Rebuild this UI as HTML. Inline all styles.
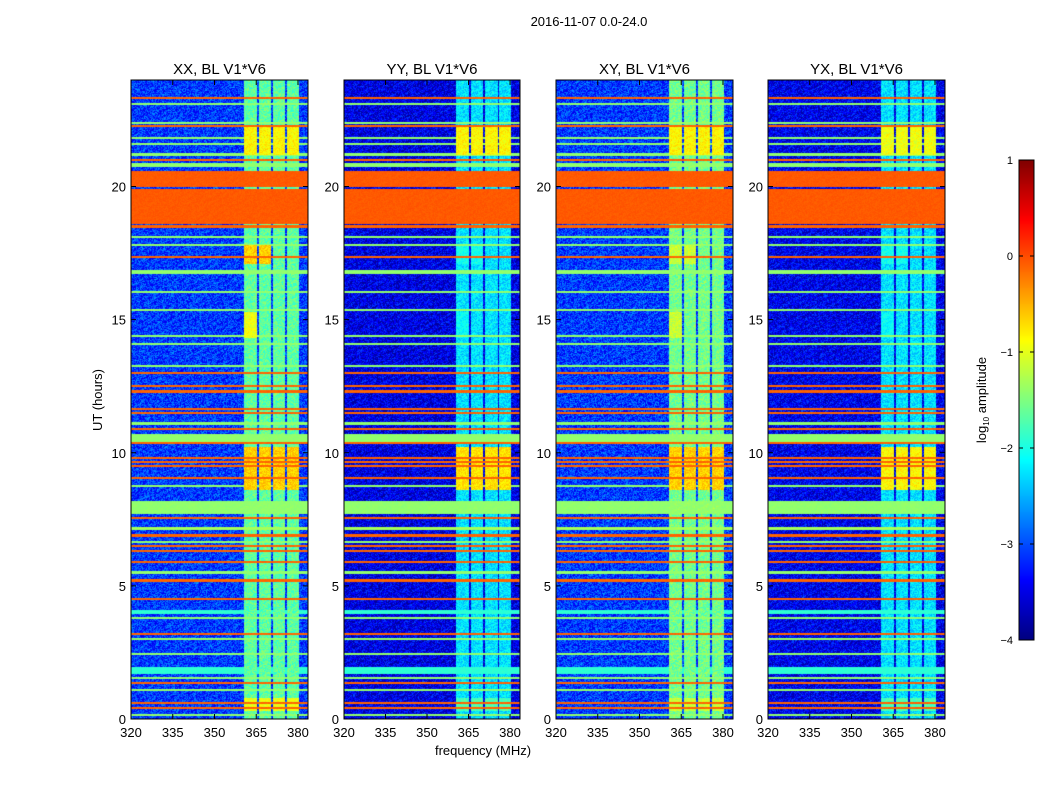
<!DOCTYPE html>
<html><head><meta charset="utf-8">
<style>
body{margin:0;background:#fff;width:1050px;height:800px;position:relative;overflow:hidden;font-family:"Liberation Sans",sans-serif}
canvas{position:absolute}
svg{position:absolute;left:0;top:0}
</style></head>
<body>
<canvas id="p0" width="177" height="639" style="left:131px;top:80px"></canvas>
<canvas id="p1" width="176" height="639" style="left:344px;top:80px"></canvas>
<canvas id="p2" width="177" height="639" style="left:556px;top:80px"></canvas>
<canvas id="p3" width="177" height="639" style="left:768px;top:80px"></canvas>
<canvas id="cb" width="15" height="480" style="left:1019px;top:160px"></canvas>
<svg id="ax" width="1050" height="800"></svg>
<script>
// ---- data ----
const panelTitles=['XX, BL V1*V6','YY, BL V1*V6','XY, BL V1*V6','YX, BL V1*V6'];
const panelLeft=[131,344,556,768];
const xTicks=[320,335,350,365,380];
const yTicks=[0,5,10,15,20];
const cbTicks=[1,0,-1,-2,-3,-4];
const bgLevel=[-3.0,-3.4,-3.0,-3.35];
const rfiLevel=[-1.6,-2.2,-1.5,-2.2];
const colStart=[360.5,365.9,371.0,376.1];
const colEnd=[365.3,370.4,375.5,380.2];
const hotStart=[21.2,8.6,0.3,17.1,14.3];
const hotEnd=[22.3,10.2,0.8,17.8,15.3];
const hotXX=[-0.8,-0.6,-0.9,-0.6,-0.9];
const hotYY=[-0.8,-0.7,-1.7,-2.0,-2.1];
const hotXY=[-0.8,-0.6,-1.1,-1.1,-1.1];
const hotYX=[-0.9,-0.8,-1.7,-2.0,-2.1];
const stripeStart=[23.29,23.06,22.36,22.22,21.79,21.56,21.16,20.96,20.73,20.0,18.6,18.46,18.06,17.76,17.31,16.7,16.01,15.31,14.36,14.06,13.21,12.96,12.46,12.26,11.61,11.46,11.06,10.86,10.4,10.31,9.76,9.61,9.45,9.0,8.71,7.7,7.51,7.1,6.85,6.6,6.45,6.26,5.86,5.46,5.16,4.46,3.95,3.76,3.16,2.96,2.41,1.7,1.51,1.31,1.06,0.56,0.36,0.11];
const stripeEnd  =[23.37,23.14,22.44,22.3,21.87,21.64,21.24,21.04,20.9,20.6,19.9,18.54,18.14,17.84,17.39,16.85,16.09,15.39,14.44,14.14,13.29,13.04,12.54,12.34,11.69,11.54,11.14,10.94,10.7,10.39,9.84,9.69,9.53,9.1,8.79,8.2,7.59,7.2,6.95,6.7,6.55,6.34,5.94,5.54,5.24,4.54,4.1,3.84,3.24,3.04,2.49,1.95,1.59,1.39,1.14,0.64,0.44,0.19];
const stripeLevel=[-0.1,-1.4,-1.4,-0.1,-1.4,-1.4,-1.4,-0.1,-1.4,-0.05,-0.05,-0.1,-1.4,-1.4,-0.1,-1.4,-1.4,-1.4,-1.4,-1.4,-1.4,-0.1,-0.1,-0.1,-0.1,-0.1,-1.4,-0.1,-1.4,-0.1,-0.1,-0.1,-0.1,-0.1,-1.4,-1.4,-0.1,-1.3,-0.1,-1.4,-0.1,-0.1,-0.1,-1.4,-0.1,-0.1,-1.9,-1.4,-0.1,-1.4,-1.4,-1.9,-1.4,-0.1,-1.4,-0.1,-0.1,-1.4];
const fMin=320,fMax=383.6,hMax=24,vMin=-4,vMax=1;
// ---- helpers ----
function jet(v){let t=(v-vMin)/(vMax-vMin);t=Math.max(0,Math.min(1,t));
const c=x=>Math.max(0,Math.min(1,x));
return [c(1.5-Math.abs(4*t-3))*255,c(1.5-Math.abs(4*t-2))*255,c(1.5-Math.abs(4*t-1))*255];}
function tex(x,y,p){let n=(x*374761393+y*668265263+p*2246822519)>>>0;n=((n^(n>>>13))*1274126177)>>>0;return ((n&1023)/1023-0.5);}
const hotSets=[hotXX,hotYY,hotXY,hotYX];
function drawPanel(p){
 const cv=document.getElementById('p'+p),ctx=cv.getContext('2d');
 const W=cv.width,H=cv.height,img=ctx.createImageData(W,H);
 for(let y=0;y<H;y++){
  const h=(H-y-0.5)/H*hMax;
  let st=null;
  for(let i=0;i<stripeStart.length;i++){if(h>=stripeStart[i]&&h<stripeEnd[i]){st=st===null?stripeLevel[i]:Math.max(st,stripeLevel[i]);}}
  for(let x=0;x<W;x++){
   const f=fMin+(x+0.5)/W*(fMax-fMin);
   let v=bgLevel[p]+tex(x,y,p)*0.9;
   let ci=-1;
   for(let c=0;c<colStart.length;c++){if(f>=colStart[c]&&f<colEnd[c])ci=c;}
   if(ci>=0){
    v=rfiLevel[p]+tex(x,y,p+7)*0.6;
    for(let k=0;k<hotStart.length;k++){
     if(h>=hotStart[k]&&h<hotEnd[k]){
      if(k===3&&ci>1)continue;
      if(k===4&&ci>0)continue;
      v=Math.max(v,hotSets[p][k]+tex(x,y,p+3)*0.4);
     }
    }
   }
   if(st!==null)v=Math.max(v,st+tex(x,y,p+5)*0.1);
   const col=jet(v),o=(y*W+x)*4;
   img.data[o]=col[0];img.data[o+1]=col[1];img.data[o+2]=col[2];img.data[o+3]=255;
  }
 }
 ctx.putImageData(img,0,0);
}
for(let p=0;p<4;p++)drawPanel(p);
(function(){const cv=document.getElementById('cb'),ctx=cv.getContext('2d');
 for(let y=0;y<cv.height;y++){const v=vMax-(y+0.5)/cv.height*(vMax-vMin);const c=jet(v);
 ctx.fillStyle='rgb('+c.map(Math.round).join(',')+')';ctx.fillRect(0,y,cv.width,1);}})();
// ---- axes ----
const NS='http://www.w3.org/2000/svg',svg=document.getElementById('ax');
function mk(tag,attrs,text){const e=document.createElementNS(NS,tag);for(const k in attrs)e.setAttribute(k,attrs[k]);if(text!==undefined)e.textContent=text;svg.appendChild(e);return e;}
const top0=80,bot0=719;
function xs(p,f){const w=p===1?176:177;return panelLeft[p]+(f-fMin)/(fMax-fMin)*w;}
function ys(h){return bot0-h/hMax*(bot0-top0);}
for(let p=0;p<4;p++){
 const w=p===1?176:177,L=panelLeft[p];
 const r=mk('rect',{x:L,y:top0,width:w,height:bot0-top0,fill:'none',stroke:'#000','stroke-width':1});
 
 
 const t=mk('text',{x:L+w/2,y:74,'text-anchor':'middle','font-size':15},panelTitles[p]);
 
 
 xTicks.forEach(f=>{const x=xs(p,f);
  mk('line',{x1:x,x2:x,y1:bot0,y2:bot0-5,stroke:'#000'});
  mk('line',{x1:x,x2:x,y1:top0,y2:top0+5,stroke:'#000'});
  const l=mk('text',{x:x,y:737,'text-anchor':'middle','font-size':13},String(f));
  
  
 });
 yTicks.forEach(h=>{const y=ys(h);
  mk('line',{x1:L,x2:L+5,y1:y,y2:y,stroke:'#000'});
  mk('line',{x1:L+w,x2:L+w-5,y1:y,y2:y,stroke:'#000'});
  const l=mk('text',{x:L-5,y:y+5,'text-anchor':'end','font-size':13},String(h));
  
  
 });
}
const cbr=mk('rect',{x:1019,y:160,width:15,height:480,fill:'none',stroke:'#000'});


cbTicks.forEach(v=>{const y=160+(vMax-v)/(vMax-vMin)*480;
 mk('line',{x1:1019,x2:1023,y1:y,y2:y,stroke:'#000'});
 mk('line',{x1:1034,x2:1030,y1:y,y2:y,stroke:'#000'});
 const l=mk('text',{x:1013,y:y+4,'text-anchor':'end','font-size':11},v<0?'\u2212'+(-v):String(v));
 
 
});
</script>
<svg width="1050" height="800" style="pointer-events:none">
<text x="589" y="26" text-anchor="middle" font-size="13" font-family="Liberation Sans, sans-serif">2016-11-07 0.0-24.0</text>
<text x="483" y="755" text-anchor="middle" font-size="13" font-family="Liberation Sans, sans-serif">frequency (MHz)</text>
<text x="102" y="400" text-anchor="middle" font-size="13" font-family="Liberation Sans, sans-serif" transform="rotate(-90 102 400)">UT (hours)</text>
<text x="986" y="400" text-anchor="middle" font-size="13" font-family="Liberation Sans, sans-serif" transform="rotate(-90 986 400)">log<tspan font-size="8" dy="3">10</tspan><tspan dy="-3"> amplitude</tspan></text>
</svg>
</body></html>
